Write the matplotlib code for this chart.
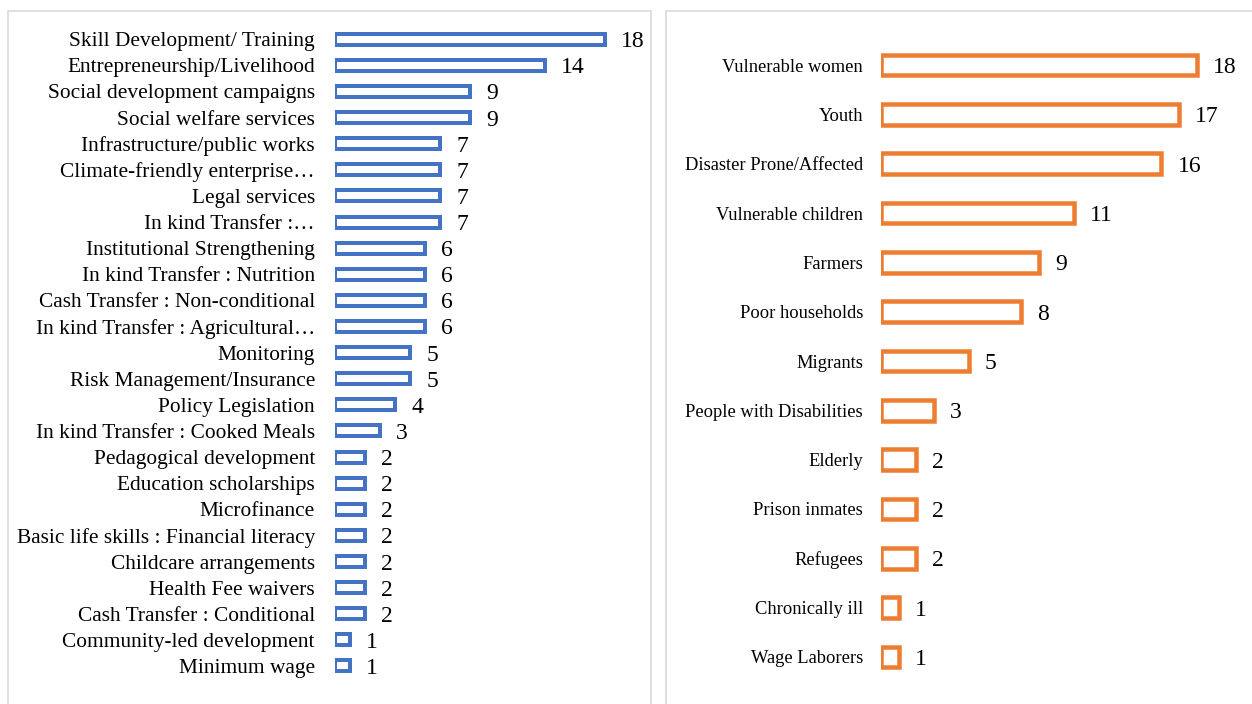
import matplotlib
matplotlib.use("Agg")
import matplotlib.pyplot as plt
from matplotlib.patches import Rectangle

plt.rcParams['font.family'] = ['Liberation Serif', 'DejaVu Serif']

interventions = [
    "Skill Development/ Training", "Entrepreneurship/Livelihood",
    "Social development campaigns", "Social welfare services",
    "Infrastructure/public works", "Climate-friendly enterprise…",
    "Legal services", "In kind Transfer :…", "Institutional Strengthening",
    "In kind Transfer : Nutrition", "Cash Transfer : Non-conditional",
    "In kind Transfer : Agricultural…", "Monitoring",
    "Risk Management/Insurance", "Policy Legislation",
    "In kind Transfer : Cooked Meals", "Pedagogical development",
    "Education scholarships", "Microfinance",
    "Basic life skills : Financial literacy", "Childcare arrangements",
    "Health Fee waivers", "Cash Transfer : Conditional",
    "Community-led development", "Minimum wage",
]
intervention_counts = [18, 14, 9, 9, 7, 7, 7, 7, 6, 6, 6, 6, 5, 5, 4, 3,
                       2, 2, 2, 2, 2, 2, 2, 1, 1]

groups = [
    "Vulnerable women", "Youth", "Disaster Prone/Affected",
    "Vulnerable children", "Farmers", "Poor households", "Migrants",
    "People with Disabilities", "Elderly", "Prison inmates", "Refugees",
    "Chronically ill", "Wage Laborers",
]
group_counts = [18, 17, 16, 11, 9, 8, 5, 3, 2, 2, 2, 1, 1]

W, H = 1252, 704
PT = 0.72  # points per pixel at 100 dpi
fig = plt.figure(figsize=(W / 100, H / 100), dpi=100)


def px_axes(x0, y0, x1, y1):
    return fig.add_axes([x0 / W, 1 - y1 / H, (x1 - x0) / W, (y1 - y0) / H])


# panel frames
for (x0, y0, x1, y1) in [(8, 11, 651, 720), (666, 11, 1262, 720)]:
    fig.add_artist(Rectangle((x0 / W, 1 - y1 / H), (x1 - x0) / W, (y1 - y0) / H,
                             transform=fig.transFigure, fill=False,
                             edgecolor='#d9d9d9', linewidth=1.2))


def hbar_panel(ax, labels, values, color, bar_px, step_px, lw_px,
               label_size, label_pad_px, value_size, value_pad_px):
    n = len(labels)
    pos = list(range(n))
    hgt = (bar_px - lw_px) / step_px
    ax.barh(pos, values, height=hgt, color='white', edgecolor=color,
            linewidth=lw_px * PT)
    ax.set_ylim(n - 0.5, -0.5)
    ax.set_yticks(pos)
    ax.set_yticklabels(labels, fontsize=label_size)
    ax.tick_params(axis='y', length=0, pad=label_pad_px * PT)
    ax.set_xticks([])
    for s in ax.spines.values():
        s.set_visible(False)
    for p, v in zip(pos, values):
        ax.annotate(str(v), (v, p), xytext=(value_pad_px * PT, 0),
                    textcoords='offset points', va='center_baseline',
                    ha='left', fontsize=value_size)


# left panel: 25 rows, centres 39..666 px; 0 at x=335.3, 14.98 px per unit
x0L, sL = 335.3, 14.98
axL = px_axes(x0L, 39.2 - 13.05, 645, 666 + 13.05)
axL.set_xlim(0, (645 - x0L) / sL)
hbar_panel(axL, interventions, intervention_counts, '#4472C4',
           15, 26.1, 4, 15.4, x0L - 315, 17, 16)

# right panel: 13 rows, centres 65..657 px; 0 at x=881, 17.53 px per unit
x0R, sR = 881.0, 17.53
axR = px_axes(x0R, 65 - 24.65, 1250, 657 + 24.65)
axR.set_xlim(0, (1250 - x0R) / sR)
hbar_panel(axR, groups, group_counts, '#ED7D31',
           25, 49.3, 4.5, 13.3, x0R - 863, 17, 16)

fig.savefig("out.png", dpi=100)
